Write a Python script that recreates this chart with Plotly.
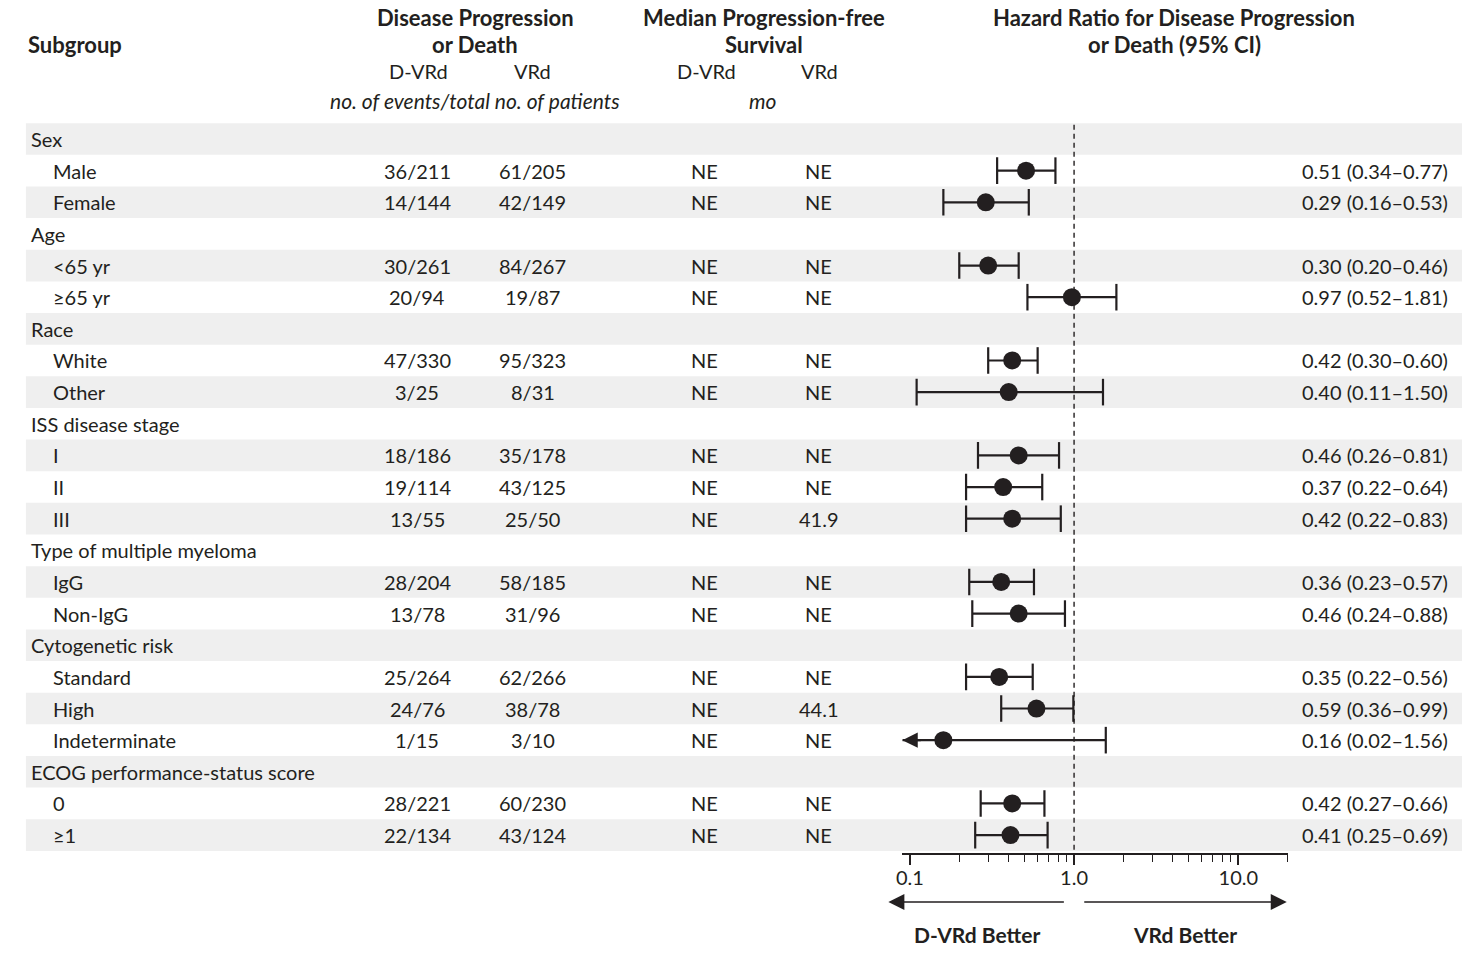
import numpy as np
import plotly.graph_objects as go

# ---------------- data ----------------
labels = ["Sex", "Male", "Female", "Age", "<65 yr", "≥65 yr", "Race", "White", "Other",
          "ISS disease stage", "I", "II", "III", "Type of multiple myeloma", "IgG", "Non-IgG",
          "Cytogenetic risk", "Standard", "High", "Indeterminate",
          "ECOG performance-status score", "0", "≥1"]
is_header = [True, False, False, True, False, False, True, False, False,
             True, False, False, False, True, False, False,
             True, False, False, False, True, False, False]
events_dvrd = ["", "36/211", "14/144", "", "30/261", "20/94", "", "47/330", "3/25",
               "", "18/186", "19/114", "13/55", "", "28/204", "13/78",
               "", "25/264", "24/76", "1/15", "", "28/221", "22/134"]
events_vrd = ["", "61/205", "42/149", "", "84/267", "19/87", "", "95/323", "8/31",
              "", "35/178", "43/125", "25/50", "", "58/185", "31/96",
              "", "62/266", "38/78", "3/10", "", "60/230", "43/124"]
pfs_dvrd = ["", "NE", "NE", "", "NE", "NE", "", "NE", "NE",
            "", "NE", "NE", "NE", "", "NE", "NE",
            "", "NE", "NE", "NE", "", "NE", "NE"]
pfs_vrd = ["", "NE", "NE", "", "NE", "NE", "", "NE", "NE",
           "", "NE", "NE", "41.9", "", "NE", "NE",
           "", "NE", "44.1", "NE", "", "NE", "NE"]
hr = [None, 0.51, 0.29, None, 0.30, 0.97, None, 0.42, 0.40,
      None, 0.46, 0.37, 0.42, None, 0.36, 0.46,
      None, 0.35, 0.59, 0.16, None, 0.42, 0.41]
ci_lo = [None, 0.34, 0.16, None, 0.20, 0.52, None, 0.30, 0.11,
         None, 0.26, 0.22, 0.22, None, 0.23, 0.24,
         None, 0.22, 0.36, 0.02, None, 0.27, 0.25]
ci_hi = [None, 0.77, 0.53, None, 0.46, 1.81, None, 0.60, 1.50,
         None, 0.81, 0.64, 0.83, None, 0.57, 0.88,
         None, 0.56, 0.99, 1.56, None, 0.66, 0.69]

x_tick_major = [0.1, 1.0, 10.0]
x_tick_major_text = ["0.1", "1.0", "10.0"]
x_tick_minor = [0.2, 0.3, 0.4, 0.5, 0.6, 0.7, 0.8, 0.9, 2, 3, 4, 5, 6, 7, 8, 9, 20]
x_min, x_max = 0.09, 20.0

# ---------------- style ----------------
W, H = 1469, 953
INK = "#231f20"
BAND = "#efefef"
FONT = "Lato"
FS = 20      # row text
FSH = 22     # bold header text
FSI = 21     # italic units

row_top_px = 139.0
row_step_px = 31.64
axis_px = 853.3

def px2paper_y(p):
    return 1 - p / H

def px2paper_x(p):
    return p / W

n = len(labels)

fig = go.Figure()

# shaded bands (every other row)
shapes = []
for i in range(0, n, 2):
    shapes.append(dict(type="rect", xref="paper", yref="y",
                       x0=px2paper_x(20), x1=px2paper_x(1462),
                       y0=i - 0.5, y1=i + 0.5,
                       fillcolor=BAND, line=dict(width=0), layer="below"))

y_bottom = (axis_px - row_top_px) / row_step_px
y_top = -row_top_px / row_step_px

# dashed reference line at HR = 1
fig.add_trace(go.Scatter(x=[1, 1], y=[-0.45, y_bottom], mode="lines",
                         line=dict(color=INK, width=1.4, dash="5px,4px"),
                         hoverinfo="skip", showlegend=False))

# CI lines
lx, ly = [], []
cap_x, cap_y = [], []
arrow_rows = []
for i in range(n):
    if hr[i] is None:
        continue
    lo = max(ci_lo[i], x_min)
    lx += [lo, ci_hi[i], None]
    ly += [i, i, None]
    if ci_lo[i] >= x_min:
        cap_x.append(ci_lo[i]); cap_y.append(i)
    else:
        arrow_rows.append(i)
    cap_x.append(ci_hi[i]); cap_y.append(i)

fig.add_trace(go.Scatter(x=lx, y=ly, mode="lines", line=dict(color=INK, width=2.2),
                         hoverinfo="skip", showlegend=False))
fig.add_trace(go.Scatter(x=cap_x, y=cap_y, mode="markers",
                         marker=dict(symbol="line-ns", size=19,
                                     line=dict(color=INK, width=2.2)),
                         hoverinfo="skip", showlegend=False))
pts = [(hr[i], i) for i in range(n) if hr[i] is not None]
fig.add_trace(go.Scatter(x=[p[0] for p in pts], y=[p[1] for p in pts], mode="markers",
                         marker=dict(symbol="circle", size=18, color=INK,
                                     line=dict(width=0)),
                         cliponaxis=False, showlegend=False))

annotations = []
# truncated CI arrow(s)
for i in arrow_rows:
    annotations.append(dict(x=np.log10(x_min), y=i, xref="x", yref="y", text="",
                            showarrow=True, ax=20, ay=0, axref="pixel", ayref="pixel",
                            arrowhead=2, arrowsize=1.4, arrowwidth=2.2, arrowcolor=INK,
                            standoff=0, startstandoff=0))

def txt(x, y, s, anchor="center", size=FS, yref="y", xref="paper", italic=False, bold=False):
    if bold:
        s = f"<b>{s}</b>"
    if italic:
        s = f"<i>{s}</i>"
    annotations.append(dict(x=x, y=y, xref=xref, yref=yref, text=s, showarrow=False,
                            xanchor=anchor, yanchor="middle",
                            font=dict(family=FONT, size=size, color=INK)))

# row text
for i in range(n):
    if is_header[i]:
        txt(px2paper_x(23), i, labels[i], anchor="left")
    else:
        txt(px2paper_x(45), i, labels[i], anchor="left")
        txt(px2paper_x(413), i, events_dvrd[i])
        txt(px2paper_x(529), i, events_vrd[i])
        txt(px2paper_x(701), i, pfs_dvrd[i])
        txt(px2paper_x(816), i, pfs_vrd[i])
        txt(px2paper_x(1450), i, f"{hr[i]:.2f} ({ci_lo[i]:.2f}–{ci_hi[i]:.2f})", anchor="right")

# headers
txt(px2paper_x(20), px2paper_y(44), "Subgroup", anchor="left", size=FSH, yref="paper", bold=True)
txt(px2paper_x(471), px2paper_y(17), "Disease Progression", size=FSH, yref="paper", bold=True)
txt(px2paper_x(471), px2paper_y(44), "or Death", size=FSH, yref="paper", bold=True)
txt(px2paper_x(414), px2paper_y(71), "D-VRd", yref="paper")
txt(px2paper_x(529), px2paper_y(71), "VRd", yref="paper")
txt(px2paper_x(471), px2paper_y(101), "no. of events/total no. of patients", size=FSI, yref="paper", italic=True)
txt(px2paper_x(761), px2paper_y(17), "Median Progression-free", size=FSH, yref="paper", bold=True)
txt(px2paper_x(761), px2paper_y(44), "Survival", size=FSH, yref="paper", bold=True)
txt(px2paper_x(703), px2paper_y(71), "D-VRd", yref="paper")
txt(px2paper_x(817), px2paper_y(71), "VRd", yref="paper")
txt(px2paper_x(760), px2paper_y(101), "mo", size=FSI, yref="paper", italic=True)
txt(px2paper_x(1173), px2paper_y(17), "Hazard Ratio for Disease Progression", size=FSH, yref="paper", bold=True)
txt(px2paper_x(1173), px2paper_y(44), "or Death (95% CI)", size=FSH, yref="paper", bold=True)

# bottom direction arrows & labels
annotations.append(dict(x=px2paper_x(886), y=px2paper_y(902), xref="paper", yref="paper",
                        text="", showarrow=True, ax=177, ay=0, arrowhead=2, arrowsize=2,
                        arrowwidth=1.6, arrowcolor=INK, standoff=0))
annotations.append(dict(x=px2paper_x(1286), y=px2paper_y(902), xref="paper", yref="paper",
                        text="", showarrow=True, ax=-204, ay=0, arrowhead=2, arrowsize=2,
                        arrowwidth=1.6, arrowcolor=INK, standoff=0))
txt(px2paper_x(975), px2paper_y(934), "D-VRd Better", size=21, yref="paper", bold=True)
txt(px2paper_x(1184), px2paper_y(934), "VRd Better", size=21, yref="paper", bold=True)

fig.update_layout(
    width=W, height=H, margin=dict(l=0, r=0, t=0, b=0),
    paper_bgcolor="white", plot_bgcolor="rgba(0,0,0,0)",
    shapes=shapes, annotations=annotations, showlegend=False,
    font=dict(family=FONT, size=FS, color=INK),
    xaxis=dict(type="log", range=[np.log10(x_min), np.log10(x_max)],
               domain=[px2paper_x(900), px2paper_x(1287)],
               showgrid=False, zeroline=False, showline=True, linecolor=INK, linewidth=1.6,
               ticks="outside", ticklen=10, tickwidth=1.6, tickcolor=INK,
               tickvals=x_tick_major, ticktext=x_tick_major_text,
               tickfont=dict(family=FONT, size=20, color=INK),
               ticklabelstandoff=-4,
               minor=dict(tickvals=x_tick_minor, ticks="outside", ticklen=7,
                          tickwidth=1.4, tickcolor=INK, showgrid=False),
               fixedrange=True),
    yaxis=dict(range=[y_bottom, y_top], domain=[px2paper_y(axis_px), 1],
               visible=False, fixedrange=True),
)

fig.write_html("out.html", config={"displayModeBar": False},
               post_script="document.body.style.margin='0';document.body.style.overflow='hidden';")
